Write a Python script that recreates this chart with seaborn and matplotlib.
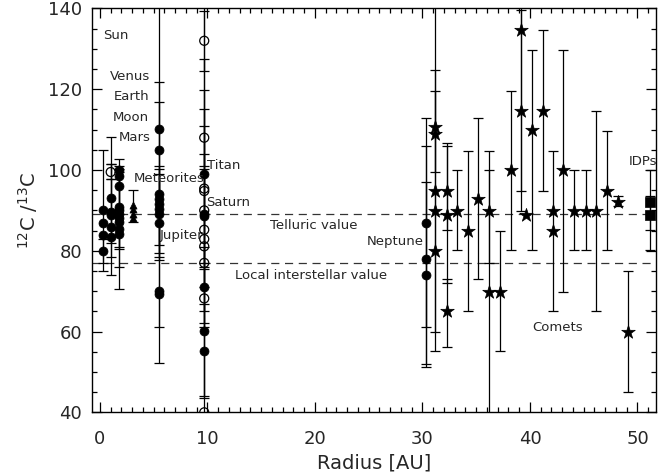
import numpy as np
import pandas as pd
import matplotlib
matplotlib.use("Agg")
import matplotlib.pyplot as plt
from matplotlib.ticker import MultipleLocator
import seaborn as sns

# ---------------- data ----------------
# filled circles: planets / meteorites / Jupiter / Saturn / Neptune
fc_x = [0.25, 0.25, 0.25, 0.25,
        1.0, 1.0, 1.0, 1.0, 1.0,
        1.8, 1.8, 1.8, 1.8, 1.8, 1.8, 1.8, 1.8, 1.8, 1.8,
        5.46, 5.46, 5.46, 5.46, 5.46, 5.46, 5.46, 5.46, 5.46, 5.46,
        9.7, 9.7, 9.7, 9.7, 9.7, 9.7,
        30.3, 30.3, 30.3]
fc_y = [90, 87, 84, 80,
        93.1, 89.7, 88.9, 85.8, 83.4,
        100, 98.6, 96.1, 90.9, 90, 89.2, 88.2, 87.2, 85.4, 84.2,
        110.2, 105, 94, 92.9, 91.7, 90.4, 89.2, 87, 70, 69.3,
        99, 89, 88.6, 71.1, 60.1, 55.2,
        86.8, 78, 74.1]
fc_lo = [75, None, None, 77,
         78.5, 82, 74, None, None,
         None, None, None, 80.9, 80.4, None, 76.1, 70.5, None, None,
         52.3, 78.5, None, None, 81.5, 79.4, 77.8, 61.1, None, None,
         38, 65.2, 77, 61.1, 44, 43.5,
         61.1, 52, 51.3]
fc_hi = [105, None, None, 83,
         108.2, 97.8, 101.5, None, None,
         None, None, None, 100.9, 99.6, None, 100.3, 102.7, None, None,
         168, 121.7, None, None, 99, 100.3, 100.9, 116.8, None, None,
         160, 110.9, 100.3, 81, 76, 66.9,
         112.8, 106, 97]

# open circles: Earth-region and Titan/Saturn measurements
oc_x = [1.0, 9.7, 9.7, 9.7, 9.7, 9.7, 9.7, 9.7, 9.7, 9.7, 9.7, 9.7]
oc_y = [99.5, 132, 108, 95.4, 94.8, 90, 85.2, 82.9, 81.1, 77, 68.2, 40]
oc_lo = [97.8, 124.6, 100.9, 71, 62, 75.4, None, None, None, None, None, None]
oc_hi = [101.5, 139.4, 115, 119.9, 127.6, 104, None, None, None, None, None, None]

# triangles: meteorites
tr_x = [3.1, 3.1, 3.1, 3.1]
tr_y = [91.4, 90.3, 89.2, 88.2]
tr_lo = [87.1, None, None, None]
tr_hi = [95, None, None, None]

# stars: comets
st_x = [31.2, 31.2, 31.2, 31.2, 31.2,
        32.3, 32.3, 32.3,
        33.2, 34.2, 35.2, 36.2, 36.2, 37.2, 38.2, 39.2, 39.2, 39.6,
        40.2, 41.2, 42.1, 42.1, 43.1, 44.1, 45.2, 46.1, 47.2, 48.2, 49.1]
st_y = [110.6, 108.8, 94.8, 89.8, 79.9,
        94.8, 88.8, 65,
        89.9, 84.9, 92.8, 89.8, 69.9, 69.9, 99.9, 134.6, 114.7, 88.8,
        109.8, 114.7, 89.9, 84.9, 99.9, 89.9, 89.9, 89.9, 94.8, 92.1, 60]
st_lo = [55.2, 99.6, 60, None, None,
         85.2, 72.1, 56.2,
         80.1, 65, 73.1, 77, 30, 55.2, 80.1, 94.8, 89.8, None,
         80.1, 94.8, 65, None, 69.9, 80.1, 80.1, 65, 80.1, 91, 45]
st_hi = [166, 119.6, 124.8, 133, None,
         106.8, 106, 73,
         100, 104.8, 112.8, 104.8, 99.9, 84.9, 119.6, 175, 139.6, None,
         129.7, 134.6, 104.8, None, 129.7, 99.9, 99.9, 114.7, 109.7, 93.5, 75]

# squares: IDPs
sq_x = [51.2, 51.2]
sq_y = [92.1, 88.8]
sq_lo = [85.2, 80.2]
sq_hi = [99.9, 93.6]

telluric_value = 89
ism_value = 77

x_ticks = [0, 10, 20, 30, 40, 50]
y_ticks = [40, 60, 80, 100, 120, 140]

# ---------------- style ----------------
sns.set_style("ticks")
plt.rcParams['font.family'] = ['DejaVu Sans']
plt.rcParams['axes.linewidth'] = 1.0

fig = plt.figure(figsize=(6.59, 4.76), dpi=100)
ax = fig.add_axes([0.1396, 0.1338, 0.8558, 0.8484])


def draw_errors(xs, ys, los, his):
    xs = np.asarray(xs, float)
    ys = np.asarray(ys, float)
    lo = np.array([np.nan if v is None else v for v in los], float)
    hi = np.array([np.nan if v is None else v for v in his], float)
    m = ~np.isnan(lo)
    if m.any():
        ax.errorbar(xs[m], ys[m], yerr=[ys[m] - lo[m], hi[m] - ys[m]],
                    fmt='none', ecolor='black', elinewidth=0.9,
                    capsize=3.6, capthick=0.9, zorder=2)


for g in [(fc_x, fc_y, fc_lo, fc_hi), (oc_x, oc_y, oc_lo, oc_hi),
          (tr_x, tr_y, tr_lo, tr_hi), (st_x, st_y, st_lo, st_hi),
          (sq_x, sq_y, sq_lo, sq_hi)]:
    draw_errors(*g)

sns.scatterplot(x=fc_x, y=fc_y, ax=ax, marker='o', s=42, color='black',
                edgecolor='black', linewidth=0.5, zorder=3)
sns.scatterplot(x=oc_x, y=oc_y, ax=ax, marker='o', s=42, facecolor='none',
                edgecolor='black', linewidth=0.9, zorder=3)
sns.scatterplot(x=tr_x, y=tr_y, ax=ax, marker='^', s=26, color='black',
                edgecolor='black', linewidth=0.5, zorder=3)
sns.scatterplot(x=st_x, y=st_y, ax=ax, marker='*', s=105, color='black',
                edgecolor='black', linewidth=0.5, zorder=3)
sns.scatterplot(x=sq_x, y=sq_y, ax=ax, marker='s', s=42, color='black',
                edgecolor='black', linewidth=0.5, zorder=3)

ax.axhline(telluric_value, color='#333333', lw=0.9, dashes=(6.5, 4.5), zorder=1)
ax.axhline(ism_value, color='#333333', lw=0.9, dashes=(6.5, 4.5), zorder=1)

# ---------------- labels ----------------
tfs = 9.5
ax.text(0.25, 133.3, 'Sun', fontsize=tfs, ha='left', va='center')
ax.text(4.65, 123.2, 'Venus', fontsize=tfs, ha='right', va='center')
ax.text(4.59, 118.1, 'Earth', fontsize=tfs, ha='right', va='center')
ax.text(4.56, 113.0, 'Moon', fontsize=tfs, ha='right', va='center')
ax.text(4.72, 108.1, 'Mars', fontsize=tfs, ha='right', va='center')
ax.text(3.1, 97.9, 'Meteorites', fontsize=tfs, ha='left', va='center')
ax.text(5.58, 83.7, 'Jupiter', fontsize=tfs, ha='left', va='center', zorder=1)
ax.text(9.93, 101.1, 'Titan', fontsize=tfs, ha='left', va='center')
ax.text(9.84, 92.0, 'Saturn', fontsize=tfs, ha='left', va='center')
ax.text(19.9, 86.2, 'Telluric value', fontsize=tfs, ha='center', va='center')
ax.text(19.6, 73.8, 'Local interstellar value', fontsize=tfs, ha='center', va='center')
ax.text(30.15, 82.4, 'Neptune', fontsize=tfs, ha='right', va='center')
ax.text(42.6, 61.1, 'Comets', fontsize=tfs, ha='center', va='center')
ax.text(50.5, 102.1, 'IDPs', fontsize=tfs, ha='center', va='center', clip_on=False)

# ---------------- axes ----------------
ax.set_xlim(-0.74, 51.72)
ax.set_ylim(40, 140)
ax.set_xticks(x_ticks)
ax.set_yticks(y_ticks)
ax.xaxis.set_minor_locator(MultipleLocator(1))
ax.yaxis.set_minor_locator(MultipleLocator(5))
ax.tick_params(which='both', direction='in', top=True, right=True,
               color='black', width=0.9)
ax.tick_params(which='major', length=7, labelsize=13)
ax.tick_params(which='minor', length=3.5)
ax.tick_params(axis='x', pad=13)
ax.tick_params(axis='y', pad=7)
for s in ax.spines.values():
    s.set_visible(True)
    s.set_color('black')

ax.set_xlabel('Radius [AU]', fontsize=14, labelpad=4)
ax.set_ylabel('$^{12}$C /$^{13}$C', fontsize=14, labelpad=6)

fig.savefig('out.png', dpi=100)
